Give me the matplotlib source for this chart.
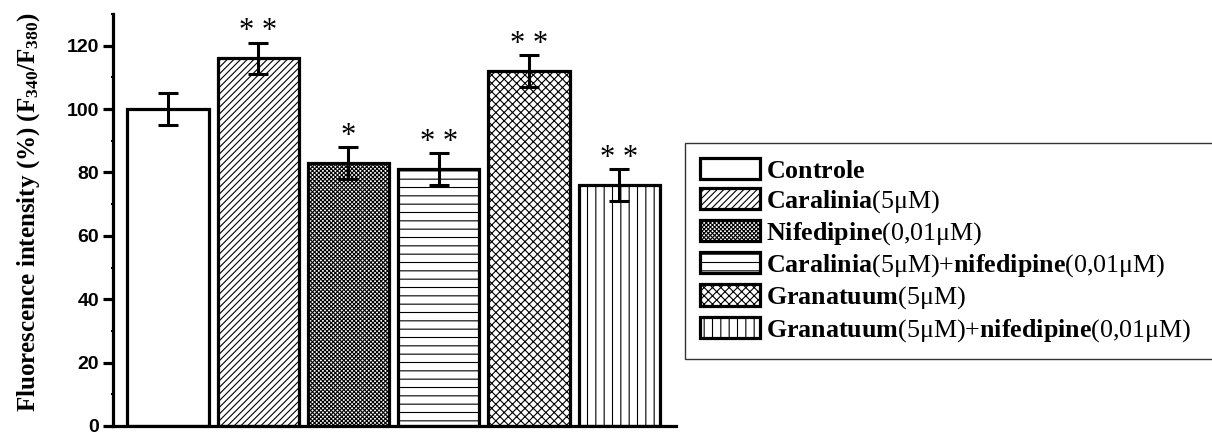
import matplotlib
matplotlib.use("Agg")
import matplotlib.pyplot as plt
import numpy as np

# group labels (legend) and values
names = ["Controle", "Caralinia", "Nifedipine", "Caralinia", "Granatuum", "Granatuum"]
doses = ["", "(5μM)", "(0,01μM)", "(5μM)+", "(5μM)", "(5μM)+"]
suffix = ["", "", "", "nifedipine", "", "nifedipine"]
values = [100, 116, 83, 81, 112, 76]
errors = [5, 5, 5, 5, 5, 5]
stars = ["", "* *", "*", "* *", "* *", "* *"]
hatches = ["", "/////", "xxxxxxxx", "--", "xxxx", "||"]

plt.rcParams["mathtext.fontset"] = "custom"
plt.rcParams["mathtext.rm"] = "Liberation Serif"
plt.rcParams["mathtext.bf"] = "Liberation Serif:bold"
plt.rcParams["mathtext.default"] = "bf"
plt.rcParams["hatch.linewidth"] = 0.8

def make_label(i):
    lab = r"$\mathbf{%s}$" % names[i] + doses[i]
    if suffix[i]:
        lab += r"$\mathbf{%s}$" % suffix[i] + "(0,01μM)"
    return lab

fig = plt.figure(figsize=(12.12, 4.34), dpi=100)
ax = fig.add_axes([113 / 1212, 8 / 434, 563 / 1212, 412 / 434])

x = np.arange(len(values))
handles = []
for i in x:
    b = ax.bar(i, values[i], width=0.9, color="white", edgecolor="black",
               linewidth=2.3, hatch=hatches[i], zorder=2)
    handles.append(b[0])
ax.errorbar(x, values, yerr=errors, fmt="none", ecolor="black", elinewidth=2.2,
            capsize=7, capthick=2.2, zorder=3)
for i in x:
    if stars[i]:
        ax.text(i, values[i] + errors[i] + 3.5, stars[i], ha="center", va="center",
                fontsize=22, family="Liberation Serif")

ax.set_xlim(-0.61, 5.63)
ax.set_ylim(0, 130)
ax.set_yticks(np.arange(0, 121, 20))
ax.set_yticks(np.arange(10, 131, 20), minor=True)
ax.set_xticks([])
for s in ["top", "right"]:
    ax.spines[s].set_visible(False)
for s in ["left", "bottom"]:
    ax.spines[s].set_linewidth(2.3)
ax.tick_params(axis="y", which="major", direction="out", length=7, width=2.3,
               labelsize=14, pad=3)
ax.tick_params(axis="y", which="minor", direction="inout", length=3, width=1.5)
for t in ax.get_yticklabels():
    t.set_family("Liberation Sans")
    t.set_fontweight("bold")

ax.set_ylabel(r"Fluorescence intensity (%) ($F_{340}$/$F_{380}$)",
              family="Liberation Serif", fontweight="bold", fontsize=18)
ax.yaxis.set_label_coords(-0.126, 0.52)

# legend box runs past the right edge of the figure, as in the original
leg_top = 1 - 143 / 434
leg = fig.legend(handles=handles, labels=[make_label(i) for i in x], loc="upper left",
                 bbox_to_anchor=(685 / 1212, leg_top - 0.1, 560 / 1212, 0.1), mode="expand",
                 prop={"family": "Liberation Serif", "size": 18.7},
                 frameon=True, fancybox=False, edgecolor="black",
                 handlelength=2.3, handleheight=0.88, handletextpad=0.22,
                 labelspacing=0.2, borderpad=0.58, borderaxespad=0)
leg.get_frame().set_linewidth(1.0)

fig.savefig("out.png", dpi=100)
